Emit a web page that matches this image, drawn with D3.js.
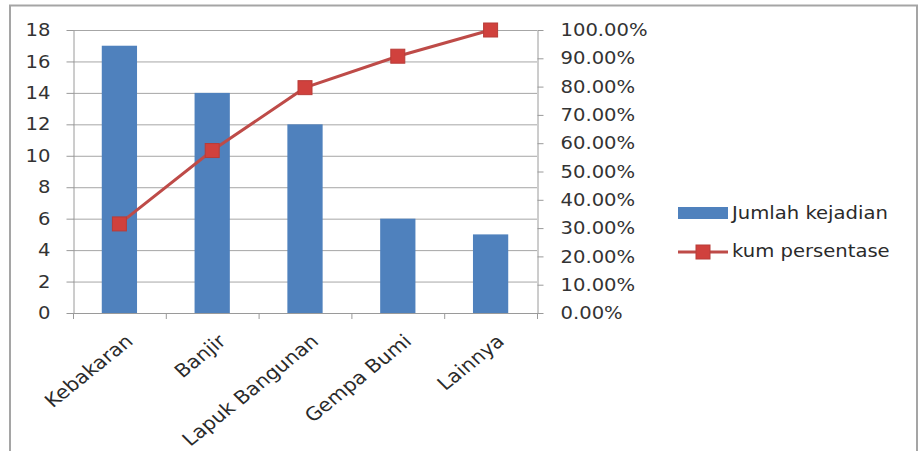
<!DOCTYPE html>
<html>
<head>
<meta charset="utf-8">
<script src="https://cdn.jsdelivr.net/npm/d3@7"></script>
<style>
  body { margin: 0; background: #fff; }
  svg { display: block; }
  .axis text { font-family: "DejaVu Sans", sans-serif; font-size: 17.5px; fill: #333; }
  .axis path, .axis line { stroke: #9a9a9a; }
  .cat { font-family: "DejaVu Sans", sans-serif; font-size: 18.5px; fill: #2a2a2a; }
  .leg { font-family: "DejaVu Sans", sans-serif; font-size: 18.5px; fill: #2a2a2a; }
</style>
</head>
<body>
<div id="chart"></div>
<script>
// data
var categories = ["Kebakaran", "Banjir", "Lapuk Bangunan", "Gempa Bumi", "Lainnya"];
var jumlah = [17, 14, 12, 6, 5];
var kumPersen = [31.48, 57.41, 79.63, 90.74, 100];
var leftTicks = [0, 2, 4, 6, 8, 10, 12, 14, 16, 18];
var rightTicks = [0, 10, 20, 30, 40, 50, 60, 70, 80, 90, 100];
var seriesNames = ["Jumlah kejadian", "kum persentase"];

var W = 918, H = 451;
var plot = { left: 73, right: 537, top: 30, bottom: 313 };
var sx = 1.12; // the source picture is a bit wide, text is stretched

var svg = d3.select("#chart").append("svg")
    .attr("width", W)
    .attr("height", H);

// outer frame
svg.append("path")
    .attr("d", "M10," + H + "V5.5H917V" + H)
    .attr("fill", "none")
    .attr("stroke", "#a5a5a5")
    .attr("stroke-width", 2);

var x = d3.scaleBand()
    .domain(categories)
    .range([plot.left, plot.right])
    .padding(0);

var y = d3.scaleLinear()
    .domain([0, 18])
    .range([plot.bottom, plot.top]);

var y1 = d3.scaleLinear()
    .domain([0, 100])
    .range([plot.bottom, plot.top]);

// gridlines
svg.append("g")
    .selectAll("line")
    .data(leftTicks.slice(1))
    .enter().append("line")
    .attr("x1", plot.left)
    .attr("x2", plot.right)
    .attr("y1", function (d) { return y(d) + 0.5; })
    .attr("y2", function (d) { return y(d) + 0.5; })
    .attr("stroke", "#a6a6a6")
    .attr("stroke-width", 1);

// bars
var barW = x.bandwidth() * 0.38;
svg.append("g")
    .selectAll("rect")
    .data(jumlah)
    .enter().append("rect")
    .attr("x", function (d, i) { return x(categories[i]) + x.bandwidth() / 2 - barW / 2; })
    .attr("y", function (d) { return y(d); })
    .attr("width", barW)
    .attr("height", function (d) { return y(0) - y(d); })
    .attr("fill", "#4f81bd");

// left axis
var gl = svg.append("g")
    .attr("class", "axis")
    .attr("transform", "translate(" + (plot.left + 0.5) + ",0)")
    .call(d3.axisLeft(y).tickValues(leftTicks).tickSize(7).tickSizeOuter(0));
gl.selectAll("text")
    .attr("x", -23 / sx)
    .attr("transform", "scale(" + sx + ",1)");

// right axis
var gr = svg.append("g")
    .attr("class", "axis")
    .attr("transform", "translate(" + (plot.right + 0.5) + ",0)")
    .call(d3.axisRight(y1).tickValues(rightTicks).tickSize(6).tickSizeOuter(0)
        .tickFormat(function (d) { return d.toFixed(2) + "%"; }));
gr.selectAll("text")
    .attr("x", 23 / sx)
    .attr("text-anchor", "start")
    .attr("transform", "scale(" + sx + ",1)");

// bottom axis, ticks at the band edges
var edges = categories.map(function (c) { return x(c); }).concat([plot.right]);
var gb = svg.append("g")
    .attr("class", "axis");
gb.append("line")
    .attr("x1", plot.left)
    .attr("x2", plot.right)
    .attr("y1", y(0) + 0.5)
    .attr("y2", y(0) + 0.5);
gb.selectAll("line.tk")
    .data(edges)
    .enter().append("line")
    .attr("class", "tk")
    .attr("x1", function (d) { return d + 0.5; })
    .attr("x2", function (d) { return d + 0.5; })
    .attr("y1", y(0))
    .attr("y2", y(0) + 6);

// category labels, rotated
svg.append("g")
    .selectAll("text")
    .data(categories)
    .enter().append("text")
    .attr("class", "cat")
    .attr("text-anchor", "end")
    .attr("transform", function (d) {
        return "translate(" + (x(d) + x.bandwidth() / 2 + 10) + "," + (y(0) + 25) + ") scale(" + sx + ",1) rotate(-42)";
    })
    .attr("dy", "0.35em")
    .text(function (d) { return d; });

// cumulative line
var line = d3.line()
    .x(function (d, i) { return x(categories[i]) + x.bandwidth() / 2; })
    .y(function (d) { return y1(d); });

svg.append("path")
    .attr("d", line(kumPersen))
    .attr("fill", "none")
    .attr("stroke", "#be4b48")
    .attr("stroke-width", 3);

var mk = 14;
svg.append("g")
    .selectAll("rect")
    .data(kumPersen)
    .enter().append("rect")
    .attr("x", function (d, i) { return x(categories[i]) + x.bandwidth() / 2 - mk / 2; })
    .attr("y", function (d) { return y1(d) - mk / 2; })
    .attr("width", mk)
    .attr("height", mk)
    .attr("fill", "#d0413d")
    .attr("stroke", "#b83c38")
    .attr("stroke-width", 1);

// legend
var lg = svg.append("g").attr("transform", "translate(678,0)");
lg.append("rect")
    .attr("x", 0).attr("y", 207)
    .attr("width", 50).attr("height", 12)
    .attr("fill", "#4f81bd");
lg.append("line")
    .attr("x1", 0).attr("x2", 50)
    .attr("y1", 252).attr("y2", 252)
    .attr("stroke", "#be4b48")
    .attr("stroke-width", 3);
lg.append("rect")
    .attr("x", 25 - mk / 2).attr("y", 252 - mk / 2)
    .attr("width", mk).attr("height", mk)
    .attr("fill", "#d0413d")
    .attr("stroke", "#b83c38");
lg.selectAll("text")
    .data(seriesNames)
    .enter().append("text")
    .attr("class", "leg")
    .attr("transform", function (d, i) { return "translate(54," + (219 + i * 38) + ") scale(1.06,1)"; })
    .text(function (d) { return d; });
</script>
</body>
</html>
